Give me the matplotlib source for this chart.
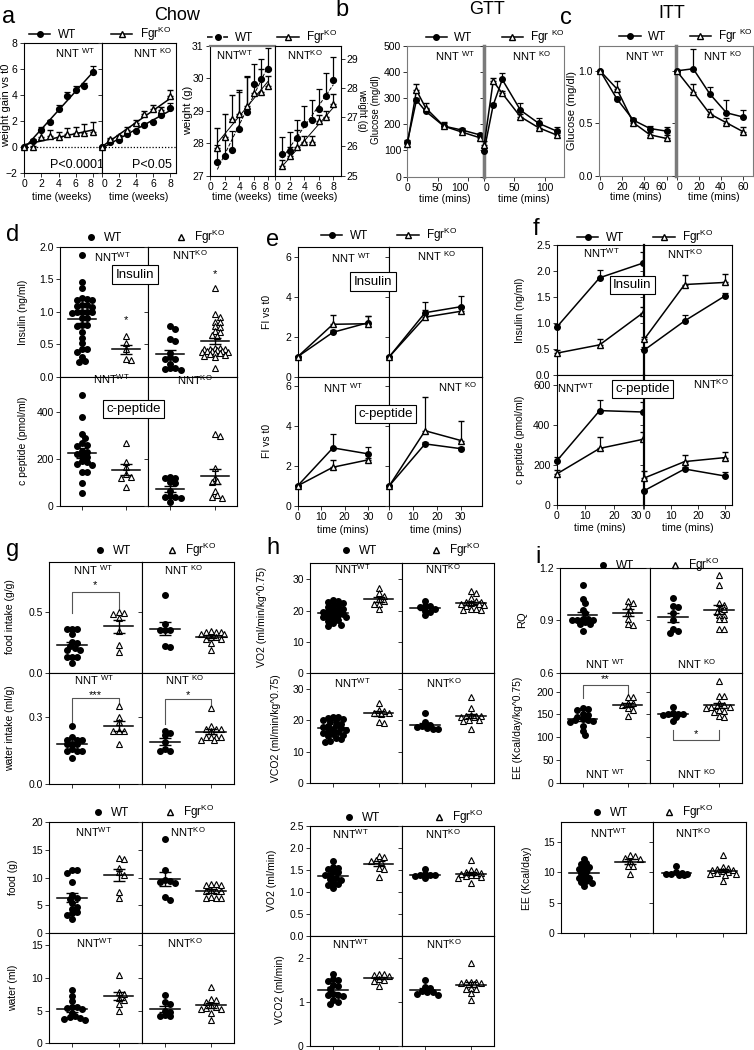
import numpy as np
import matplotlib
matplotlib.use("Agg")
import matplotlib.pyplot as plt
from matplotlib.lines import Line2D
from matplotlib.ticker import FormatStrFormatter

plt.rcParams['font.family'] = ['Liberation Sans', 'DejaVu Sans']
plt.rcParams['mathtext.fontset'] = 'custom'
plt.rcParams['mathtext.rm'] = 'Liberation Sans'
plt.rcParams['mathtext.it'] = 'Liberation Sans:italic'
plt.rcParams['mathtext.bf'] = 'Liberation Sans:bold'

# ---------------- data ----------------
# a: weight gain vs t0 (weeks 0-8)
weeks = [0, 1, 2, 3, 4, 5, 6, 7, 8]
gain_wt_nntwt = [0, 0.5, 1.3, 1.9, 2.9, 3.95, 4.4, 4.7, 5.8]
gain_wt_nntwt_err = [0, 0.1, 0.25, 0.15, 0.3, 0.3, 0.3, 0.2, 0.45]
gain_ko_nntwt = [0, 0.0, 0.8, 0.85, 0.75, 1.0, 1.05, 1.1, 1.15]
gain_ko_nntwt_err = [0, 0.1, 0.6, 0.45, 0.4, 0.5, 0.5, 0.65, 0.8]
gain_wt_nntko = [0, 0.35, 0.55, 1.0, 1.2, 1.7, 1.9, 2.45, 3.0]
gain_wt_nntko_err = [0, 0.05, 0.1, 0.1, 0.1, 0.1, 0.1, 0.15, 0.35]
gain_ko_nntko = [0, 0.6, 0.85, 1.3, 1.85, 2.55, 2.95, 2.85, 3.9]
gain_ko_nntko_err = [0, 0.1, 0.1, 0.25, 0.25, 0.25, 0.25, 0.25, 0.45]

# a: body weight (g), weeks 1-8
weeks2 = [1, 2, 3, 4, 5, 6, 7, 8]
bw_wt_nntwt = [27.43, 27.62, 27.78, 28.44, 28.97, 29.83, 29.99, 30.27]
bw_wt_nntwt_err = [0.5, 0.5, 0.6, 1.15, 1.1, 0.6, 0.6, 0.65]
bw_ko_nntwt = [27.84, 28.2, 28.76, 28.89, 29.14, 29.53, 29.58, 29.76]
bw_ko_nntwt_err = [0.64, 0.7, 0.72, 0.75, 0.9, 0.3, 0.7, 0.3]
bw_wt_nntko = [25.74, 25.85, 26.3, 26.78, 26.9, 27.3, 27.73, 28.27]
bw_wt_nntko_err = [0.59, 0.63, 0.6, 0.6, 0.7, 0.67, 0.77, 0.79]
bw_ko_nntko = [25.34, 25.68, 25.97, 26.16, 26.16, 26.88, 27.02, 27.44]
bw_ko_nntko_err = [0.2, 0.3, 0.6, 0.2, 0.2, 0.2, 0.2, 0.34]

# b: GTT
gtt_t = [0, 15, 30, 60, 90, 120]
gtt_wt_nntwt = [131, 292, 250, 193, 178, 159]
gtt_wt_nntwt_err = [8, 10, 10, 12, 6, 8]
gtt_ko_nntwt = [123, 330, 263, 193, 170, 148]
gtt_ko_nntwt_err = [5, 25, 17, 15, 8, 10]
gtt_wt_nntko = [99, 273, 371, 254, 204, 174]
gtt_wt_nntko_err = [10, 10, 23, 26, 19, 17]
gtt_ko_nntko = [120, 365, 318, 229, 187, 159]
gtt_ko_nntko_err = [15, 13, 10, 10, 10, 8]

# c: ITT
itt_t = [0, 15, 30, 45, 60]
itt_wt_nntwt = [1.0, 0.735, 0.53, 0.45, 0.425]
itt_wt_nntwt_err = [0, 0.02, 0.02, 0.025, 0.035]
itt_ko_nntwt = [1.0, 0.83, 0.505, 0.39, 0.355]
itt_ko_nntwt_err = [0, 0.075, 0.03, 0.025, 0.03]
itt_wt_nntko = [1.0, 1.02, 0.78, 0.6, 0.56]
itt_wt_nntko_err = [0, 0.19, 0.07, 0.12, 0.07]
itt_ko_nntko = [1.0, 0.8, 0.59, 0.505, 0.42]
itt_ko_nntko_err = [0, 0.075, 0.05, 0.05, 0.04]

# d: fasting insulin / c-peptide
ins_wt_nntwt = [1.88, 1.46, 1.37, 1.22, 1.2, 1.19, 1.18, 1.1, 1.1, 1.09, 1.08, 1.0, 1.0, 1.0,
                0.99, 0.98, 0.91, 0.9, 0.8, 0.79, 0.78, 0.69, 0.6, 0.52, 0.43, 0.42, 0.38,
                0.3, 0.24, 0.22]
ins_ko_nntwt = [0.62, 0.52, 0.43, 0.25, 0.28]
ins_wt_nntko = [0.78, 0.74, 0.58, 0.55, 0.37, 0.3, 0.28, 0.28, 0.2, 0.13, 0.13, 0.12, 0.11]
ins_ko_nntko = [1.37, 0.97, 0.92, 0.85, 0.84, 0.78, 0.77, 0.70, 0.69, 0.64, 0.62, 0.45, 0.44,
                0.43, 0.42, 0.42, 0.41, 0.40, 0.40, 0.39, 0.38, 0.38, 0.37, 0.36, 0.35, 0.33,
                0.32, 0.30, 0.14]
cp_wt_nntwt = [471, 379, 304, 289, 265, 258, 252, 232, 228, 222, 212, 208, 190, 187, 176, 173,
               145, 142, 95, 52]
cp_ko_nntwt = [265, 187, 163, 133, 123, 119, 81]
cp_wt_nntko = [120, 122, 118, 100, 95, 62, 40, 38, 35, 32, 14]
cp_ko_nntko = [306, 298, 159, 119, 104, 99, 62, 45, 38, 31]

# e: fold increase vs t0
ogtt_t = [0, 15, 30]
e_ins_wt_nntwt = [1, 2.22, 2.7]
e_ins_wt_nntwt_err = [0.05, 0.1, 0.35]
e_ins_ko_nntwt = [1, 2.62, 2.65]
e_ins_ko_nntwt_err = [0.05, 0.45, 0.4]
e_ins_wt_nntko = [1, 3.2, 3.5]
e_ins_wt_nntko_err = [0.05, 0.52, 0.55]
e_ins_ko_nntko = [1, 2.98, 3.27]
e_ins_ko_nntko_err = [0.05, 0.35, 0.25]
e_cp_wt_nntwt = [1, 2.9, 2.6]
e_cp_wt_nntwt_err = [0.05, 0.7, 0.33]
e_cp_ko_nntwt = [1, 1.93, 2.3]
e_cp_ko_nntwt_err = [0.05, 0.35, 0.1]
e_cp_wt_nntko = [1, 3.1, 2.86]
e_cp_wt_nntko_err = [0.05, 0.08, 0.08]
e_cp_ko_nntko = [1, 3.76, 3.27]
e_cp_ko_nntko_err = [0.05, 1.68, 1.0]

# f: absolute insulin / c-peptide
f_ins_wt_nntwt = [0.92, 1.87, 2.15]
f_ins_wt_nntwt_err = [0.07, 0.15, 0.21]
f_ins_ko_nntwt = [0.42, 0.58, 1.19]
f_ins_ko_nntwt_err = [0.06, 0.12, 0.11]
f_ins_wt_nntko = [0.48, 1.04, 1.52]
f_ins_wt_nntko_err = [0.06, 0.11, 0.05]
f_ins_ko_nntko = [0.69, 1.74, 1.78]
f_ins_ko_nntko_err = [0.04, 0.18, 0.16]
f_cp_wt_nntwt = [220, 472, 465]
f_cp_wt_nntwt_err = [22, 53, 52]
f_cp_ko_nntwt = [155, 283, 328]
f_cp_ko_nntwt_err = [20, 55, 39]
f_cp_wt_nntko = [72, 180, 145]
f_cp_wt_nntko_err = [5, 8, 22]
f_cp_ko_nntko = [135, 217, 237]
f_cp_ko_nntko_err = [37, 33, 26]

# g: food / water intake
fi_wt_nntwt = [0.36, 0.36, 0.36, 0.32, 0.25, 0.24, 0.22, 0.20, 0.19, 0.19, 0.13, 0.13, 0.13, 0.08]
fi_ko_nntwt = [0.48, 0.5, 0.49, 0.45, 0.34, 0.23, 0.17]
fi_wt_nntko = [0.64, 0.40, 0.35, 0.35, 0.35, 0.22, 0.21]
fi_ko_nntko = [0.33, 0.33, 0.32, 0.32, 0.33, 0.34, 0.29, 0.28, 0.28, 0.29, 0.24, 0.19]
wi_wt_nntwt = [0.26, 0.21, 0.20, 0.20, 0.20, 0.18, 0.18, 0.18, 0.16, 0.15, 0.15, 0.15, 0.12]
wi_ko_nntwt = [0.35, 0.30, 0.28, 0.24, 0.24, 0.24, 0.18]
wi_wt_nntko = [0.23, 0.24, 0.22, 0.19, 0.15, 0.16, 0.15]
wi_ko_nntko = [0.34, 0.26, 0.25, 0.25, 0.25, 0.24, 0.21, 0.21, 0.21, 0.21, 0.20, 0.20]
food_wt_nntwt = [11.3, 10.8, 11.3, 9.2, 6.8, 6.3, 6.1, 5.3, 4.7, 4.3, 3.8, 3.5, 3.2, 2.5]
food_ko_nntwt = [13.6, 13.3, 11.8, 11.0, 10.4, 7.3, 6.2]
food_wt_nntko = [17.0, 11.3, 9.4, 9.2, 9.0, 9.5, 6.4, 5.9]
food_ko_nntko = [8.7, 8.8, 8.8, 8.7, 7.6, 7.7, 7.6, 7.6, 6.2, 6.3, 6.3, 6.4]
water_wt_nntwt = [8.1, 7.2, 6.5, 5.6, 5.5, 5.4, 5.3, 4.7, 4.1, 4.0, 3.9, 3.7, 3.6]
water_ko_nntwt = [10.5, 7.9, 7.6, 6.9, 6.6, 6.0, 5.0]
water_wt_nntko = [7.4, 6.3, 6.0, 5.0, 4.8, 4.3, 4.2, 4.1]
water_ko_nntko = [8.6, 6.8, 6.6, 6.3, 5.8, 5.6, 5.4, 5.3, 5.2, 4.7, 3.5]

# h: VO2 / VCO2
vo2n_wt_nntwt = [23.5, 23.2, 22.8, 22.5, 21.8, 21.5, 21.3, 20.5, 20.2, 20.0, 19.8, 19.5, 19.0,
                 18.8, 18.5, 18.2, 18.0, 17.8, 17.5, 16.8, 16.5, 16.0, 15.5, 15.0]
vo2n_ko_nntwt = [27.2, 25.7, 24.6, 23.6, 23.2, 22.2, 22.0, 20.4]
vo2n_wt_nntko = [23.0, 21.6, 21.4, 21.2, 20.4, 20.0, 19.6, 18.5]
vo2n_ko_nntko = [26.4, 25.6, 23.9, 23.0, 22.8, 22.6, 22.3, 22.2, 22.0, 21.8, 21.6, 20.5, 20.4,
                 20.3, 20.2]
vco2n_wt_nntwt = [21.2, 21.0, 20.8, 20.5, 20.3, 20.0, 19.5, 19.0, 18.5, 18.2, 18.0, 17.5, 17.2,
                  17.0, 16.5, 16.2, 16.0, 15.8, 15.5, 15.0, 14.5, 14.0, 13.5, 13.2]
vco2n_ko_nntwt = [25.7, 23.3, 23.1, 22.5, 22.3, 22.0, 19.6, 19.3]
vco2n_wt_nntko = [22.3, 19.5, 18.6, 18.2, 17.8, 17.5, 17.4, 17.2]
vco2n_ko_nntko = [27.6, 23.9, 21.7, 21.5, 21.4, 21.3, 21.2, 21.0, 20.1, 20.0, 19.8, 17.2]
vo2_wt_nntwt = [1.72, 1.58, 1.55, 1.52, 1.48, 1.45, 1.40, 1.38, 1.33, 1.30, 1.27, 1.20, 1.18,
                1.16, 1.10]
vo2_ko_nntwt = [1.83, 1.79, 1.74, 1.72, 1.68, 1.55, 1.53, 1.35]
vo2_wt_nntko = [1.52, 1.42, 1.40, 1.39, 1.38, 1.37, 1.32]
vo2_ko_nntko = [1.73, 1.50, 1.48, 1.46, 1.44, 1.42, 1.40, 1.38, 1.36, 1.34, 1.33, 1.20]
vco2_wt_nntwt = [1.62, 1.52, 1.50, 1.48, 1.38, 1.35, 1.30, 1.18, 1.16, 1.15, 1.14, 1.03, 1.0, 0.95]
vco2_ko_nntwt = [1.64, 1.62, 1.60, 1.58, 1.52, 1.50, 1.48, 1.36]
vco2_wt_nntko = [1.49, 1.34, 1.32, 1.25, 1.23, 1.22, 1.18, 1.16]
vco2_ko_nntko = [1.89, 1.45, 1.44, 1.44, 1.43, 1.42, 1.40, 1.32, 1.30, 1.28, 1.20, 1.04]

# i: RQ / energy expenditure
rq_wt_nntwt = [1.10, 1.02, 1.00, 0.96, 0.94, 0.91, 0.91, 0.90, 0.90, 0.90, 0.89, 0.88, 0.88, 0.84]
rq_ko_nntwt = [1.01, 1.00, 0.98, 0.96, 0.94, 0.91, 0.88, 0.875]
rq_wt_nntko = [1.03, 0.98, 0.975, 0.94, 0.90, 0.85, 0.84, 0.83]
rq_ko_nntko = [1.16, 1.10, 1.00, 0.99, 0.97, 0.965, 0.95, 0.93, 0.93, 0.905, 0.905, 0.85, 0.85]
een_wt_nntwt = [165, 162, 160, 152, 148, 145, 140, 138, 137, 135, 133, 125, 115, 106]
een_ko_nntwt = [189, 188, 176, 174, 170, 163, 160, 146]
een_wt_nntko = [167, 153, 152, 151, 150, 148, 145, 135]
een_ko_nntko = [222, 191, 190, 176, 170, 168, 167, 166, 165, 160, 157, 155, 146, 144]
ee_wt_nntwt = [12.2, 11.6, 11.3, 10.9, 10.7, 10.5, 10.0, 9.9, 9.1, 9.1, 9.1, 8.5, 8.4, 8.3, 7.8]
ee_ko_nntwt = [12.9, 12.7, 12.4, 12.2, 11.8, 11.1, 11.0, 9.8]
ee_wt_nntko = [11.1, 10.1, 9.9, 9.8, 9.8, 9.7, 9.6, 9.5]
ee_ko_nntko = [12.8, 10.9, 10.7, 10.6, 10.4, 10.3, 10.2, 10.1, 9.9, 9.8, 9.7, 9.6, 8.5]

WTLAB = 'WT'
KOLAB = r'Fgr$^{\mathrm{KO}}$'
KOLAB_S = r'Fgr $^{\mathrm{KO}}$'
NWT = r'NNT$^{\mathrm{WT}}$'
NKO = r'NNT$^{\mathrm{KO}}$'
NWT_S = r'NNT $^{\mathrm{WT}}$'
NKO_S = r'NNT $^{\mathrm{KO}}$'

# ---------------- figure ----------------
W, H = 754, 1050
fig = plt.figure(figsize=(W / 100, H / 100), dpi=100)
GRAY = '#7a7a7a'


def box(l, t, r, b):
    return fig.add_axes([l / W, 1 - b / H, (r - l) / W, (b - t) / H])


def pair(l, m, r, t, b):
    return box(l, t, m, b), box(m, t, r, b)


def ftext(x, y, s, **kw):
    kw.setdefault('ha', 'center')
    kw.setdefault('va', 'center')
    return fig.text(x / W, 1 - y / H, s, **kw)


def style(ax, xlim, ylim, yt, fmt=None, ylab=True, xt=(), xlab=False, col='k', lw=0.8):
    ax.set_xlim(xlim)
    ax.set_ylim(ylim)
    for s in ax.spines.values():
        s.set_linewidth(lw)
        s.set_color(col)
    ax.set_yticks(yt)
    if fmt:
        ax.yaxis.set_major_formatter(FormatStrFormatter(fmt))
    if not ylab:
        ax.set_yticklabels([])
    ax.set_xticks(list(xt))
    if not xlab:
        ax.set_xticklabels([])
    ax.tick_params(length=3, width=0.7, labelsize=7.5, pad=1.5, color='#333333')


def lab(ax, x, y, s, size=8):
    ax.text(x, y, s, transform=ax.transAxes, ha='center', va='center', fontsize=size)


def lines(ax, t, wt, wt_err, ko, ko_err, connect=True, ms=4.5):
    fmt_wt = '-o' if connect else 'o'
    fmt_ko = '-^' if connect else '^'
    z = np.zeros(len(wt))
    ax.errorbar(t, wt, yerr=[z, wt_err], fmt=fmt_wt, color='k', ms=ms, lw=1.1,
                elinewidth=0.9, capsize=2.5, capthick=0.9, clip_on=False, zorder=3)
    ax.errorbar(t, ko, yerr=[z, ko_err], fmt=fmt_ko, color='k', mfc='white', mew=1.0,
                ms=ms + 0.5, lw=1.1, elinewidth=0.9, capsize=2.5, capthick=0.9,
                clip_on=False, zorder=4)


def swarm(ax, pos, vals, d=4.3, cap=14.0):
    # simple beeswarm in pixel space, spread limited to +-cap pixels
    bb = ax.bbox
    x0, x1 = ax.get_xlim()
    y0, y1 = ax.get_ylim()
    ypx = (np.asarray(vals, float) - y0) / (y1 - y0) * bb.height
    xs = bb.width / (x1 - x0)
    step = d * 0.6
    cands = [0.0]
    k = 1
    while k * step <= cap:
        cands += [k * step, -k * step]
        k += 1
    offs = np.zeros(len(vals))
    placed = []
    for i in np.argsort(ypx)[::-1]:
        best, best_md = 0.0, -1.0
        for c in cands:
            md = min([np.hypot(c - px, ypx[i] - py) for px, py in placed], default=1e9)
            if md >= d:
                best = c
                break
            if md > best_md:
                best, best_md = c, md
        placed.append((best, ypx[i]))
        offs[i] = best
    return pos + offs / xs


def dots(ax, wt, ko, hw=0.32):
    for pos, vals, mk in [(0, wt, 'o'), (1, ko, '^')]:
        v = np.asarray(vals, float)
        xs = swarm(ax, pos, v)
        if mk == 'o':
            ax.plot(xs, v, 'o', color='k', ms=4.0, ls='none', zorder=3)
        else:
            ax.plot(xs, v, '^', color='k', mfc='white', mew=0.8, ms=4.3, ls='none', zorder=3)
        m = v.mean()
        se = v.std(ddof=1) / np.sqrt(len(v))
        ax.plot([pos - hw, pos + hw], [m, m], color='k', lw=1.1, zorder=4)
        ax.errorbar(pos, m, yerr=se, fmt='none', ecolor='k', elinewidth=1.0,
                    capsize=4, capthick=1.0, zorder=4)


def legend(cx, cy, kind, ko=KOLAB, dashed=False, sep=3.0, size=8.5):
    if kind == 'line':
        h1 = Line2D([], [], color='k', marker='o', ms=4, lw=1.1, ls='--' if dashed else '-')
        h2 = Line2D([], [], color='k', marker='^', mfc='white', ms=4.5, lw=1.1)
        hl = 1.8
    else:
        h1 = Line2D([], [], color='k', marker='o', ms=4, ls='none')
        h2 = Line2D([], [], color='k', marker='^', mfc='white', ms=4, ls='none')
        hl = 1.0
    fig.legend([h1, h2], [WTLAB, ko], loc='center', bbox_to_anchor=(cx / W, 1 - cy / H),
               ncol=2, frameon=False, fontsize=size, handlelength=hl, columnspacing=sep,
               handletextpad=0.6, borderpad=0, borderaxespad=0)


def tag(x, y, s):
    ftext(x, y, s, fontsize=9.5,
          bbox=dict(boxstyle='square,pad=0.25', fc='white', ec='k', lw=0.8))


def bracket(ax, x0, x1, y, yd0, yd1, s, ys):
    ax.plot([x0, x0, x1, x1], [yd0, y, y, yd1], color='#555555', lw=0.8, zorder=2)
    ax.text((x0 + x1) / 2, ys, s, ha='center', va='center', fontsize=8)


def ylab_at(x, y, s, size=7.5, rot=90):
    ftext(x, y, s, rotation=rot, fontsize=size)


def edge_labels(axl, axr):
    # "8 0" style: push the meeting tick labels apart
    tl = axl.get_xticklabels()
    tr = axr.get_xticklabels()
    if tl:
        tl[-1].set_ha('right')
    if tr:
        tr[0].set_ha('left')


# ---------- panel letters / titles ----------
ftext(9, 17, 'a', fontsize=17)
ftext(177, 15, 'Chow', fontsize=13)
ftext(342, 10, 'b', fontsize=17)
ftext(487, 9, 'GTT', fontsize=13)
ftext(566, 18, 'c', fontsize=17)
ftext(672, 13, 'ITT', fontsize=13)
ftext(13, 235, 'd', fontsize=17)
ftext(273, 240, 'e', fontsize=17)
ftext(536, 229, 'f', fontsize=17)
ftext(13, 550, 'g', fontsize=17)
ftext(273, 548, 'h', fontsize=17)
ftext(538, 557, 'i', fontsize=17)

# ---------- a: weight gain ----------
aL, aR = pair(24, 101.7, 176, 43, 173)
for ax, wt, wte, ko, koe, xl in [(aL, gain_wt_nntwt, gain_wt_nntwt_err, gain_ko_nntwt,
                                   gain_ko_nntwt_err, (0, 9)),
                                  (aR, gain_wt_nntko, gain_wt_nntko_err, gain_ko_nntko,
                                   gain_ko_nntko_err, (0, 8.7))]:
    style(ax, xl, (-2, 8), [-2, 0, 2, 4, 6, 8], ylab=(ax is aL), xt=[0, 2, 4, 6, 8], xlab=True)
    ax.axhline(0, color='k', lw=0.9, ls=(0, (1, 1.5)), zorder=1)
    lines(ax, weeks, wt, wte, ko, koe, connect=False, ms=4.2)
    xx = np.array([0, 8])
    for vals in (wt, ko):
        p = np.polyfit(weeks, vals, 1)
        ax.plot(xx, np.polyval(p, xx), color='k', lw=1.1, zorder=2)
edge_labels(aL, aR)
lab(aL, 0.65, 0.92, NWT_S)
lab(aR, 0.68, 0.92, NKO_S)
lab(aL, 0.68, 0.06, 'P<0.0001', 9)
lab(aR, 0.67, 0.06, 'P<0.05', 9)
ylab_at(6, 105, 'weight gain vs t0', 8)
ftext(62, 197, 'time (weeks)', fontsize=7.5)
ftext(139, 197, 'time (weeks)', fontsize=7.5)
legend(100, 34, 'line')

# ---------- a: body weight ----------
wL, wR = pair(210, 275, 340.7, 45.7, 175.7)
style(wL, (0, 8.9), (27, 31), [27, 28, 29, 30, 31], xt=[0, 2, 4, 6, 8], xlab=True)
style(wR, (0, 9), (25, 29.45), [25, 26, 27, 28, 29], xt=[0, 2, 4, 6, 8], xlab=True)
wL.spines['top'].set_color(GRAY)
wL.spines['top'].set_linewidth(1.6)
wR.yaxis.tick_right()
wR.tick_params(axis='y', pad=1.0)
for ax, wt, wte, ko, koe in [(wL, bw_wt_nntwt, bw_wt_nntwt_err, bw_ko_nntwt, bw_ko_nntwt_err),
                              (wR, bw_wt_nntko, bw_wt_nntko_err, bw_ko_nntko, bw_ko_nntko_err)]:
    lines(ax, weeks2, wt, wte, ko, koe, connect=False, ms=4.2)
    xx = np.array([1, 8])
    pw = np.polyfit(weeks2, wt, 1)
    pk = np.polyfit(weeks2, ko, 1)
    ax.plot(xx, np.polyval(pw, xx), color='k', lw=0.7, ls='--', zorder=2)
    ax.plot(xx, np.polyval(pk, xx), color='k', lw=0.7, zorder=2)
edge_labels(wL, wR)
lab(wL, 0.38, 0.93, NWT)
lab(wR, 0.46, 0.93, NKO)
ylab_at(188, 110, 'weight (g)', 8)
ylab_at(362, 110, 'weight (g)', 7, rot=270)
ftext(242, 197, 'time (weeks)', fontsize=7.5)
ftext(308, 197, 'time (weeks)', fontsize=7.5)
legend(272, 37, 'line', dashed=True, sep=2.0)

# ---------- b: GTT ----------
bL, bR = pair(406.7, 483.5, 564, 45.7, 176.7)
style(bL, (-1, 125), (0, 500), [0, 100, 200, 300, 400, 500], xt=[0, 50, 100], xlab=True, col=GRAY)
style(bR, (-1, 132), (0, 500), [0, 100, 200, 300, 400, 500], ylab=False, xt=[0, 50, 100],
      xlab=True, col=GRAY)
bR.spines['left'].set_linewidth(2.5)
bL.tick_params(axis='y', pad=1.0)
lines(bL, gtt_t, gtt_wt_nntwt, gtt_wt_nntwt_err, gtt_ko_nntwt, gtt_ko_nntwt_err, ms=4)
lines(bR, gtt_t, gtt_wt_nntko, gtt_wt_nntko_err, gtt_ko_nntko, gtt_ko_nntko_err, ms=4)
edge_labels(bL, bR)
lab(bL, 0.63, 0.92, NWT_S)
lab(bR, 0.6, 0.92, NKO_S)
ylab_at(376, 110, 'Glucose (mg/dl)', 7)
ftext(445, 199, 'time (mins)', fontsize=7.5)
ftext(524, 199, 'time (mins)', fontsize=7.5)
legend(495, 37, 'line', ko=KOLAB_S, sep=2.5)

# ---------- c: ITT ----------
cL, cR = pair(599, 675.5, 753, 45.7, 175.7)
style(cL, (-1, 68), (0, 1.24), [0, 0.5, 1.0], fmt='%.1f', xt=[0, 20, 40, 60], xlab=True, col=GRAY)
style(cR, (-1, 69), (0, 1.24), [0, 0.5, 1.0], ylab=False, xt=[0, 20, 40, 60], xlab=True, col=GRAY)
cR.spines['left'].set_linewidth(2.5)
lines(cL, itt_t, itt_wt_nntwt, itt_wt_nntwt_err, itt_ko_nntwt, itt_ko_nntwt_err, ms=4)
lines(cR, itt_t, itt_wt_nntko, itt_wt_nntko_err, itt_ko_nntko, itt_ko_nntko_err, ms=4)
edge_labels(cL, cR)
lab(cL, 0.6, 0.92, NWT_S)
lab(cR, 0.6, 0.92, NKO_S)
ylab_at(572, 110, 'Glucose (mg/dl)', 8)
ftext(636, 197, 'time (mins)', fontsize=7.5)
ftext(714, 197, 'time (mins)', fontsize=7.5)
legend(686, 36, 'line', ko=KOLAB_S, sep=2.0)

# ---------- d: insulin / c-peptide scatter ----------
dTL, dTR = pair(60, 148, 237, 247, 376.7)
dBL, dBR = pair(60, 148, 237, 376.7, 505.7)
style(dTL, (-0.5, 1.5), (0, 2.0), [0, 0.5, 1.0, 1.5, 2.0], fmt='%.1f', xt=[0, 1])
style(dTR, (-0.5, 1.5), (0, 2.0), [0, 0.5, 1.0, 1.5, 2.0], ylab=False, xt=[0, 1])
style(dBL, (-0.5, 1.5), (0, 549), [0, 200, 400], xt=[0, 1])
style(dBR, (-0.5, 1.5), (0, 549), [0, 200, 400], ylab=False, xt=[0, 1])
dots(dTL, ins_wt_nntwt, ins_ko_nntwt)
dots(dTR, ins_wt_nntko, ins_ko_nntko)
dots(dBL, cp_wt_nntwt, cp_ko_nntwt)
dots(dBR, cp_wt_nntko, cp_ko_nntko)
dTL.text(1, 0.87, '*', ha='center', va='center', fontsize=8)
dTR.text(1, 1.58, '*', ha='center', va='center', fontsize=8)
lab(dTL, 0.6, 0.92, NWT)
lab(dTR, 0.47, 0.94, NKO)
lab(dBL, 0.59, 0.985, NWT)
lab(dBR, 0.53, 0.975, NKO)
tag(135, 274.5, 'Insulin')
tag(133.5, 409, 'c-peptide')
ylab_at(23, 312, 'Insulin (ng/ml)')
ylab_at(23, 441, 'c peptide (pmol/ml)')
legend(155, 237, 'dot', sep=4.5)

# ---------- e: fold increase ----------
eTL, eTR = pair(297.7, 389.3, 482.3, 247.3, 376.7)
eBL, eBR = pair(297.7, 389.3, 482.3, 376.7, 505.7)
for ax, first in [(eTL, True), (eTR, False), (eBL, True), (eBR, False)]:
    style(ax, (0, 39), (0, 6.47), [0, 2, 4, 6], ylab=first, xt=[0, 10, 20, 30],
          xlab=ax in (eBL, eBR))
lines(eTL, ogtt_t, e_ins_wt_nntwt, e_ins_wt_nntwt_err, e_ins_ko_nntwt, e_ins_ko_nntwt_err, ms=4)
lines(eTR, ogtt_t, e_ins_wt_nntko, e_ins_wt_nntko_err, e_ins_ko_nntko, e_ins_ko_nntko_err, ms=4)
lines(eBL, ogtt_t, e_cp_wt_nntwt, e_cp_wt_nntwt_err, e_cp_ko_nntwt, e_cp_ko_nntwt_err, ms=4)
lines(eBR, ogtt_t, e_cp_wt_nntko, e_cp_wt_nntko_err, e_cp_ko_nntko, e_cp_ko_nntko_err, ms=4)
lab(eTL, 0.58, 0.92, NWT_S)
lab(eTR, 0.51, 0.93, NKO_S)
lab(eBL, 0.49, 0.91, NWT_S)
lab(eBR, 0.73, 0.92, NKO_S)
tag(373, 281.5, 'Insulin')
tag(385.5, 414, 'c-peptide')
ylab_at(267, 312, 'FI vs t0')
ylab_at(267, 441, 'FI vs t0')
ftext(343, 530, 'time (mins)', fontsize=7.5)
ftext(436, 530, 'time (mins)', fontsize=7.5)
legend(389, 235, 'line', sep=2.5)

# ---------- f: absolute insulin / c-peptide ----------
fTL, fTR = pair(556.7, 644.3, 732.3, 245, 375)
fBL, fBR = pair(556.7, 644.3, 732.3, 375, 505)
style(fTL, (0, 30.6), (0, 2.5), [0, 0.5, 1.0, 1.5, 2.0, 2.5], fmt='%.1f', xt=[0, 10, 20, 30])
style(fTR, (0, 32.75), (0, 2.5), [0, 0.5, 1.0, 1.5, 2.0, 2.5], ylab=False, xt=[0, 10, 20, 30])
style(fBL, (0, 30.6), (0, 650), [0, 200, 400, 600], xt=[0, 10, 20, 30], xlab=True)
style(fBR, (0, 32.75), (0, 650), [0, 200, 400, 600], ylab=False, xt=[0, 10, 20, 30], xlab=True)
for ax in (fTR, fBR):
    ax.spines['left'].set_linewidth(1.6)
lines(fTL, ogtt_t, f_ins_wt_nntwt, f_ins_wt_nntwt_err, f_ins_ko_nntwt, f_ins_ko_nntwt_err, ms=4)
lines(fTR, ogtt_t, f_ins_wt_nntko, f_ins_wt_nntko_err, f_ins_ko_nntko, f_ins_ko_nntko_err, ms=4)
lines(fBL, ogtt_t, f_cp_wt_nntwt, f_cp_wt_nntwt_err, f_cp_ko_nntwt, f_cp_ko_nntwt_err, ms=4)
lines(fBR, ogtt_t, f_cp_wt_nntko, f_cp_wt_nntko_err, f_cp_ko_nntko, f_cp_ko_nntko_err, ms=4)
edge_labels(fBL, fBR)
lab(fTL, 0.51, 0.94, NWT)
lab(fTR, 0.46, 0.93, NKO)
lab(fBL, 0.21, 0.9, NWT)
lab(fBR, 0.76, 0.93, NKO)
tag(632.5, 285, 'Insulin')
tag(642.5, 389, 'c-peptide')
ylab_at(520, 310, 'Insulin (ng/ml)')
ylab_at(520, 440, 'c peptide (pmol/ml)')
ftext(600, 528, 'time (mins)', fontsize=7.5)
ftext(688, 528, 'time (mins)', fontsize=7.5)
legend(645, 237, 'line', sep=2.5)


# ---------- scatter pairs for g / h / i ----------
def dot_pair(l, m, r, t, b, ylim, yt, fmt, wt_l, ko_l, wt_r, ko_r, lx=(0.48, 0.46), ly=0.925,
             labs=(NWT, NKO)):
    axl, axr = pair(l, m, r, t, b)
    style(axl, (-0.5, 1.5), ylim, yt, fmt=fmt, xt=[0, 1])
    style(axr, (-0.5, 1.5), ylim, yt, fmt=fmt, ylab=False, xt=[0, 1])
    dots(axl, wt_l, ko_l)
    dots(axr, wt_r, ko_r)
    lab(axl, lx[0], ly, labs[0])
    lab(axr, lx[1], ly, labs[1])
    return axl, axr


# g
g1L, g1R = dot_pair(49, 141.7, 234.3, 561.7, 672.7, (0, 0.91), [0, 0.5], '%.1f',
                    fi_wt_nntwt, fi_ko_nntwt, fi_wt_nntko, fi_ko_nntko, lx=(0.47, 0.45),
                    labs=(NWT_S, NKO_S))
g2L, g2R = dot_pair(49, 141.7, 234.3, 672.7, 784.3, (0, 0.5), [0, 0.3], '%.1f',
                    wi_wt_nntwt, wi_ko_nntwt, wi_wt_nntko, wi_ko_nntko, lx=(0.49, 0.46),
                    ly=0.935, labs=(NWT_S, NKO_S))
bracket(g1L, 0, 1, 0.66, 0.49, 0.52, '*', 0.72)
bracket(g2L, 0, 1, 0.387, 0.27, 0.36, '***', 0.40)
bracket(g2R, 0, 1, 0.38, 0.27, 0.36, '*', 0.40)
ylab_at(10, 617, 'food intake (g/g)')
ylab_at(10, 728, 'water intake (ml/g)')
legend(155, 550, 'dot', sep=3.0)

g3L, g3R = dot_pair(49, 141.7, 234.3, 822.3, 932.7, (0, 20), [0, 5, 10, 15, 20], None,
                    food_wt_nntwt, food_ko_nntwt, food_wt_nntko, food_ko_nntko,
                    lx=(0.475, 0.5), ly=0.915)
g4L, g4R = dot_pair(49, 141.7, 234.3, 932.7, 1043.3, (0, 16.9), [0, 5, 10, 15], None,
                    water_wt_nntwt, water_ko_nntwt, water_wt_nntko, water_ko_nntko,
                    lx=(0.49, 0.47), ly=0.907)
ylab_at(13, 877, 'food (g)')
ylab_at(13, 988, 'water (ml)')
legend(153, 812, 'dot', sep=3.0)

# h
h1L, h1R = dot_pair(310, 401.7, 494.3, 562.7, 672.7, (0, 35.4), [0, 10, 20, 30], None,
                    vo2n_wt_nntwt, vo2n_ko_nntwt, vo2n_wt_nntko, vo2n_ko_nntko,
                    lx=(0.46, 0.44), ly=0.94)
h2L, h2R = dot_pair(310, 401.7, 494.3, 672.7, 783.3, (0, 35.2), [0, 10, 20, 30], None,
                    vco2n_wt_nntwt, vco2n_ko_nntwt, vco2n_wt_nntko, vco2n_ko_nntko,
                    lx=(0.46, 0.46), ly=0.91)
ylab_at(262, 617, 'VO2 (ml/min/kg^0.75)')
ylab_at(276, 728, 'VCO2 (ml/min/kg^0.75)')
legend(410, 550, 'dot', sep=4.5)

h3L, h3R = dot_pair(310, 401.7, 494.3, 826, 935.7, (0, 2.51), [0, 0.5, 1.0, 1.5, 2.0, 2.5],
                    '%.1f', vo2_wt_nntwt, vo2_ko_nntwt, vo2_wt_nntko, vo2_ko_nntko,
                    lx=(0.44, 0.44))
h4L, h4R = dot_pair(310, 401.7, 494.3, 935.7, 1045.7, (0, 2.5), [0, 1, 2], None,
                    vco2_wt_nntwt, vco2_ko_nntwt, vco2_wt_nntko, vco2_ko_nntko,
                    lx=(0.44, 0.46))
ylab_at(272, 880, 'VO2 (ml/min)')
ylab_at(280, 990, 'VCO2 (ml/min)')
legend(413, 817, 'dot', sep=4.5)

# i
i1L, i1R = dot_pair(560, 650, 742.3, 568, 672.7, (0.6, 1.2), [0.6, 0.9, 1.2], '%.1f',
                    rq_wt_nntwt, rq_ko_nntwt, rq_wt_nntko, rq_ko_nntko,
                    lx=(0.5, 0.5), ly=0.08, labs=(NWT_S, NKO_S))
i2L, i2R = dot_pair(560, 650, 742.3, 672.7, 783.3, (0, 241), [0, 50, 100, 150, 200], None,
                    een_wt_nntwt, een_ko_nntwt, een_wt_nntko, een_ko_nntko,
                    lx=(0.5, 0.5), ly=0.08, labs=(NWT_S, NKO_S))
bracket(i2L, 0, 1, 214, 185, 193, '**', 228)
bracket(i2R, 0, 1, 94, 116, 116, '*', 108)
ylab_at(522, 620, 'RQ', 8)
ylab_at(518, 728, 'EE (Kcal/day/kg^0.75)')
legend(658, 565, 'dot', sep=3.0)

i3L, i3R = dot_pair(560.7, 653.3, 745.7, 822.3, 933.3, (0, 18.2), [0, 5, 10, 15], None,
                    ee_wt_nntwt, ee_ko_nntwt, ee_wt_nntko, ee_ko_nntko,
                    lx=(0.52, 0.43), ly=0.9)
ylab_at(527, 878, 'EE (Kcal/day)')
legend(652, 812, 'dot', sep=3.0)

fig.savefig('out.png', dpi=100)
